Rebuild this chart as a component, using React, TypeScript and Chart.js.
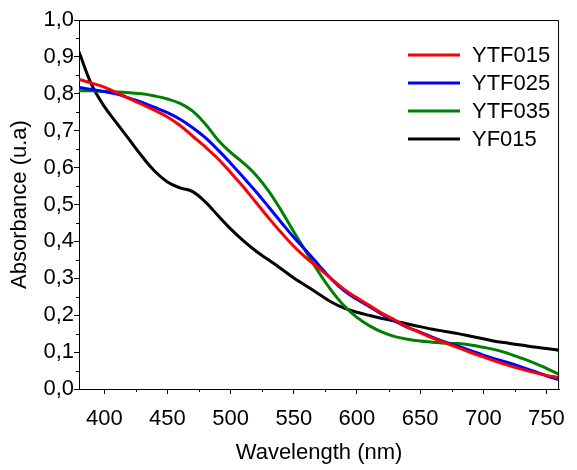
import React, { useEffect, useRef } from 'react';
import { Chart, registerables } from 'chart.js';

Chart.register(...registerables);

const wavelengths = [
  380, 390, 400, 410, 420, 430, 440, 450, 460, 470, 480, 490, 500, 510, 520, 530, 540, 550, 560, 570,
  580, 590, 600, 610, 620, 630, 640, 650, 660, 670, 680, 690, 700, 710, 720, 730, 740, 750, 760,
];

const ytf015 = [
  0.839, 0.829, 0.818, 0.803, 0.787, 0.771, 0.755, 0.737, 0.714, 0.685, 0.656, 0.624, 0.587, 0.548, 0.506, 0.464, 0.424, 0.387, 0.355, 0.327,
  0.298, 0.270, 0.247, 0.226, 0.205, 0.187, 0.168, 0.153, 0.138, 0.125, 0.112, 0.099, 0.087, 0.075, 0.064, 0.054, 0.045, 0.037, 0.031,
];

const ytf025 = [
  0.817, 0.812, 0.806, 0.799, 0.788, 0.777, 0.763, 0.749, 0.731, 0.708, 0.681, 0.648, 0.612, 0.574, 0.535, 0.494, 0.452, 0.411, 0.374, 0.335,
  0.297, 0.266, 0.243, 0.223, 0.202, 0.184, 0.167, 0.154, 0.140, 0.127, 0.116, 0.104, 0.092, 0.081, 0.071, 0.060, 0.048, 0.036, 0.025,
];

const ytf035 = [
  0.808, 0.808, 0.806, 0.805, 0.803, 0.800, 0.794, 0.786, 0.774, 0.753, 0.718, 0.675, 0.641, 0.613, 0.580, 0.537, 0.484, 0.426, 0.370, 0.315,
  0.266, 0.225, 0.194, 0.171, 0.154, 0.142, 0.135, 0.130, 0.127, 0.124, 0.123, 0.119, 0.113, 0.106, 0.096, 0.084, 0.071, 0.056, 0.040,
];

const yf015 = [
  0.914, 0.825, 0.766, 0.720, 0.675, 0.630, 0.590, 0.561, 0.545, 0.535, 0.507, 0.470, 0.434, 0.402, 0.374, 0.350, 0.326, 0.301, 0.279, 0.257,
  0.235, 0.219, 0.208, 0.199, 0.191, 0.184, 0.176, 0.169, 0.162, 0.156, 0.150, 0.143, 0.136, 0.129, 0.124, 0.119, 0.114, 0.110, 0.105,
];

const seriesLabels = ['YTF015', 'YTF025', 'YTF035', 'YF015'];
const xMajorTicks = [400, 450, 500, 550, 600, 650, 700, 750];
const xMinorTicks = [425, 475, 525, 575, 625, 675, 725];
const yMinorTicks = [0.05, 0.15, 0.25, 0.35, 0.45, 0.55, 0.65, 0.75, 0.85, 0.95];

const FONT = '"Liberation Sans", Arial, sans-serif';

const framePlugin = {
  id: 'frameAndMinor',
  afterDraw(chart: any) {
    const { ctx, chartArea, scales } = chart;
    const x = scales.x;
    const y = scales.y;
    ctx.save();
    ctx.strokeStyle = '#000';
    ctx.lineWidth = 1;
    ctx.beginPath();
    xMinorTicks.forEach((v) => {
      const px = Math.round(x.getPixelForValue(v)) + 0.5;
      ctx.moveTo(px, chartArea.bottom);
      ctx.lineTo(px, chartArea.bottom + 3);
    });
    yMinorTicks.forEach((v) => {
      const py = Math.round(y.getPixelForValue(v)) + 0.5;
      ctx.moveTo(chartArea.left, py);
      ctx.lineTo(chartArea.left - 3, py);
    });
    ctx.stroke();
    ctx.beginPath();
    ctx.moveTo(chartArea.left, chartArea.top + 0.5);
    ctx.lineTo(chartArea.right - 0.5, chartArea.top + 0.5);
    ctx.lineTo(chartArea.right - 0.5, chartArea.bottom);
    ctx.stroke();

    // legend
    const lx = chartArea.left + 329;
    const ly = chartArea.top + 35;
    ctx.font = `22px ${FONT}`;
    ctx.textBaseline = 'middle';
    ctx.textAlign = 'left';
    chart.data.datasets.forEach((ds: any, i: number) => {
      const yy = ly + i * 28;
      ctx.strokeStyle = ds.borderColor;
      ctx.lineWidth = 3;
      ctx.beginPath();
      ctx.moveTo(lx, yy);
      ctx.lineTo(lx + 52, yy);
      ctx.stroke();
      ctx.fillStyle = '#000';
      ctx.fillText(ds.label, lx + 64, yy + 1);
    });
    ctx.restore();
  },
};

export default function App() {
  const ref = useRef<HTMLCanvasElement | null>(null);

  useEffect(() => {
    if (!ref.current) return;
    const series = [ytf015, ytf025, ytf035, yf015];
    const colors = ['#ff0000', '#0000ff', '#008000', '#000000'];
    const chart = new Chart(ref.current, {
      type: 'line',
      data: {
        datasets: series.map((s, i) => ({
          label: seriesLabels[i],
          data: wavelengths.map((w, j) => ({ x: w, y: s[j] })),
          borderColor: colors[i],
          backgroundColor: colors[i],
          borderWidth: 3,
          pointRadius: 0,
          tension: 0.4,
          fill: false,
        })),
      },
      options: {
        responsive: false,
        animation: false,
        layout: { padding: { top: 20, right: 8, left: 0, bottom: 0 } },
        plugins: {
          legend: { display: false },
          tooltip: { enabled: false },
        },
        scales: {
          x: {
            type: 'linear',
            min: 380,
            max: 760,
            afterBuildTicks: (scale: any) => {
              scale.ticks = xMajorTicks.map((v) => ({ value: v }));
            },
            afterFit: (scale: any) => {
              scale.height = 81;
            },
            grid: { display: true, drawOnChartArea: false, drawTicks: true, tickLength: 5, color: '#000' },
            border: { display: true, color: '#000', width: 1 },
            ticks: {
              padding: 12,
              color: '#000',
              font: { family: FONT, size: 22 },
              maxRotation: 0,
              autoSkip: false,
              callback: (v: any) => String(v),
            },
            title: {
              display: true,
              text: 'Wavelength (nm)',
              color: '#000',
              font: { family: FONT, size: 22 },
              padding: { top: 0, bottom: 4 },
            },
          },
          y: {
            type: 'linear',
            min: 0,
            max: 1,
            afterFit: (scale: any) => {
              scale.width = 79;
            },
            grid: { display: true, drawOnChartArea: false, drawTicks: true, tickLength: 5, color: '#000' },
            border: { display: true, color: '#000', width: 1 },
            ticks: {
              stepSize: 0.1,
              padding: 0,
              color: '#000',
              font: { family: FONT, size: 22 },
              callback: (v: any) => Number(v).toFixed(1).replace('.', ','),
            },
            title: {
              display: true,
              text: 'Absorbance (u.a)',
              color: '#000',
              font: { family: FONT, size: 22 },
              padding: { top: 7, bottom: 0 },
            },
          },
        },
      },
      plugins: [framePlugin],
    });
    return () => chart.destroy();
  }, []);

  return (
    <div style={{ position: 'absolute', left: 0, top: 0, width: 577, height: 470, background: '#fff' }}>
      <canvas ref={ref} width={577} height={470} />
    </div>
  );
}
